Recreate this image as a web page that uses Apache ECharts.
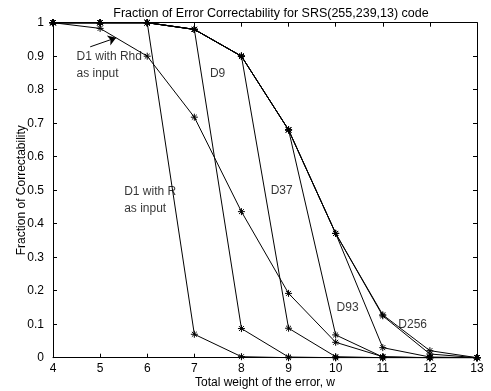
<!DOCTYPE html>
<html>
<head>
<meta charset="utf-8">
<script src="https://cdn.jsdelivr.net/npm/echarts@6/dist/echarts.min.js"></script>
<style>
  html, body { margin: 0; padding: 0; background: #fff; }
  #chart { width: 491px; height: 391px; }
</style>
</head>
<body>
<div id="chart"></div>
<script>
// Total weight of the error, w
const weights = [4, 5, 6, 7, 8, 9, 10, 11, 12, 13];

// Fraction of correctability per decoder
const d1WithR   = [1, 1, 1, 0.07, 0.003, 0, 0, 0, 0, 0];
const d1WithRhd = [1, 0.983, 0.9, 0.718, 0.436, 0.192, 0.046, 0.003, 0, 0];
const d9        = [1, 1, 1, 0.98, 0.087, 0.002, 0, 0, 0, 0];
const d37       = [1, 1, 1, 0.98, 0.9, 0.088, 0.003, 0, 0, 0];
const d93       = [1, 1, 1, 0.98, 0.9, 0.68, 0.068, 0.002, 0, 0];
const d128      = [1, 1, 1, 0.98, 0.9, 0.68, 0.371, 0.03, 0.002, 0];
const d200      = [1, 1, 1, 0.98, 0.9, 0.68, 0.371, 0.125, 0.011, 0];
const d256      = [1, 1, 1, 0.98, 0.9, 0.68, 0.371, 0.128, 0.021, 0];

const yTicks = [0, 0.1, 0.2, 0.3, 0.4, 0.5, 0.6, 0.7, 0.8, 0.9, 1];

// Text annotations: [x, y, text]
const notes = [
  [4.50, 0.874, 'D1 with Rhd\nas input'],
  [5.51, 0.471, 'D1 with R\nas input'],
  [7.33, 0.849, 'D9'],
  [8.62, 0.499, 'D37'],
  [10.02, 0.150, 'D93'],
  [11.33, 0.098, 'D256']
];
// Arrow from the note to the D1-with-Rhd curve
const arrow = [[4.79, 0.928], [5.34, 0.955]];

const FONT = 'Liberation Sans, Arial, sans-serif';
const FS = 12;
const asterisk = 'path://M0,5L10,5M5,0L5,10M1.5,1.5L8.5,8.5M8.5,1.5L1.5,8.5';

function curve(name, values) {
  return {
    name: name,
    type: 'line',
    data: weights.map((w, i) => [w, values[i]]),
    symbol: asterisk,
    symbolSize: 7,
    showAllSymbol: true,
    lineStyle: { color: '#000', width: 1 },
    itemStyle: { color: 'none', borderColor: '#000', borderWidth: 1 },
    emphasis: { disabled: true },
    animation: false,
    z: 3
  };
}

const axisCommon = {
  axisLine: { show: true, onZero: false, lineStyle: { color: '#000', width: 1 } },
  axisTick: { show: true, inside: true, length: 4, lineStyle: { color: '#000' } },
  splitLine: { show: false }
};

const chart = echarts.init(document.getElementById('chart'), null, { renderer: 'canvas' });
chart.setOption({
  animation: false,
  backgroundColor: '#fff',
  textStyle: { fontFamily: FONT },
  title: {
    text: 'Fraction of Error Correctability for SRS(255,239,13) code',
    left: 266, top: 2, textAlign: 'center',
    textStyle: { fontFamily: FONT, fontSize: 12.5, fontWeight: 'normal', color: '#000' }
  },
  grid: {
    left: 53, right: 14, top: 22.7, bottom: 33.3,
    containLabel: false, outerBoundsMode: 'none'
  },
  xAxis: [
    Object.assign({}, axisCommon, {
      type: 'value', min: 4, max: 13, interval: 1, position: 'bottom',
      name: 'Total weight of the error, w', nameLocation: 'middle', nameGap: 19,
      nameMoveOverlap: false,
      nameTextStyle: { fontFamily: FONT, fontSize: FS, color: '#000' },
      axisLabel: { fontFamily: FONT, fontSize: FS, color: '#000', margin: 5 }
    }),
    Object.assign({}, axisCommon, {
      type: 'value', min: 4, max: 13, interval: 1, position: 'top',
      axisLabel: { show: false }
    })
  ],
  yAxis: [
    Object.assign({}, axisCommon, {
      type: 'value', min: 0, max: 1, interval: 0.1, position: 'left',
      name: 'Fraction of Correctability', nameLocation: 'middle', nameGap: 25,
      nameMoveOverlap: false,
      nameTextStyle: { fontFamily: FONT, fontSize: FS, color: '#000' },
      axisLabel: {
        fontFamily: FONT, fontSize: FS, color: '#000', margin: 9,
        formatter: v => {
          const t = yTicks.find(k => Math.abs(k - v) < 1e-9);
          return t === undefined ? '' : String(t);
        }
      }
    }),
    Object.assign({}, axisCommon, {
      type: 'value', min: 0, max: 1, interval: 0.1, position: 'right',
      axisLabel: { show: false }
    })
  ],
  series: [
    curve('D1 with R', d1WithR),
    curve('D1 with Rhd', d1WithRhd),
    curve('D9', d9),
    curve('D37', d37),
    curve('D93', d93),
    curve('D128', d128),
    curve('D200', d200),
    curve('D256', d256),
    {
      type: 'lines',
      coordinateSystem: 'cartesian2d',
      data: [{ coords: arrow }],
      symbol: ['none', 'arrow'],
      symbolSize: [0, 8],
      lineStyle: { color: '#000', width: 1, opacity: 1 },
      silent: true,
      z: 4
    },
    {
      type: 'scatter',
      data: notes.map(n => ({ value: [n[0], n[1]], label: { formatter: n[2] } })),
      symbolSize: 0,
      silent: true,
      label: {
        show: true, position: [0, 0], align: 'left', verticalAlign: 'middle',
        fontFamily: FONT, fontSize: FS, color: '#000', lineHeight: 16.6
      },
      z: 5
    }
  ]
});
</script>
</body>
</html>
